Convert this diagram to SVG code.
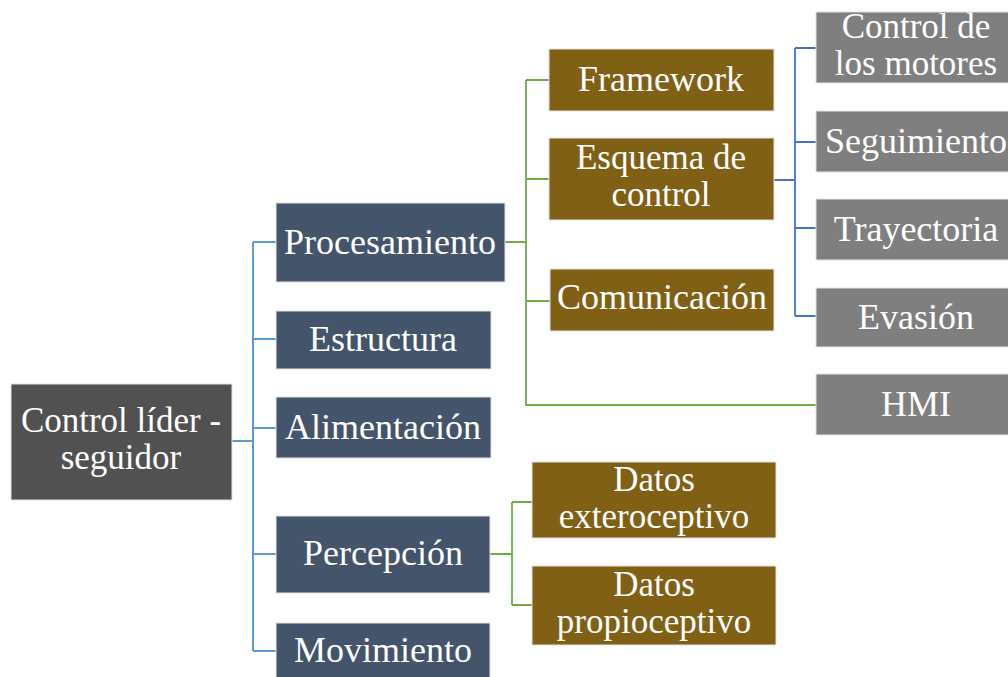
<svg xmlns="http://www.w3.org/2000/svg" width="1008" height="677" viewBox="0 0 1008 677">
<style>
.box{stroke:#e4e4e4;stroke-width:1}
.root{fill:#515151}
.blue{fill:#44546A}
.brown{fill:#7F6014}
.gray{fill:#7F7F7F}
text{font-family:"Liberation Serif","Times New Roman",serif;font-size:36px;fill:#ffffff;text-anchor:middle}
text.t2{font-size:35px}
.c1{fill:none;stroke:#5B9BD5;stroke-width:2}
.c2{fill:none;stroke:#70AD47;stroke-width:1.8}
.c3{fill:none;stroke:#4472C4;stroke-width:1.8}
</style>
<rect width="1008" height="677" fill="#ffffff"/>
<g id="connectors">
<path class="c1" d="M232 441H253M253 242V651M253 242H276M253 339H276M253 428H276M253 554H276M253 651H276"/>
<path class="c2" d="M505 242H526M526 80V405H816M526 80H549M526 179H549M526 301H550"/>
<path class="c3" d="M774 180H795M795 48V316M795 48H816M795 142H816M795 228H816M795 316H816"/>
<path class="c2" d="M490 554H512M512 502V605M512 502H532M512 605H532"/>
</g>
<g id="root"><rect class="box root" x="11" y="384" width="221" height="116"/><text class="t2" x="121" y="432">Control líder -</text><text class="t2" x="121" y="469">seguidor</text></g>
<g id="procesamiento"><rect class="box blue" x="276" y="203" width="229" height="79"/><text x="390" y="254">Procesamiento</text></g>
<g id="estructura"><rect class="box blue" x="276" y="311" width="215" height="58"/><text x="383" y="351">Estructura</text></g>
<g id="alimentacion"><rect class="box blue" x="276" y="397" width="215" height="61"/><text x="383" y="439">Alimentación</text></g>
<g id="percepcion"><rect class="box blue" x="276" y="516" width="214" height="77"/><text x="383" y="565">Percepción</text></g>
<g id="movimiento"><rect class="box blue" x="276" y="623" width="214" height="60"/><text x="383" y="662">Movimiento</text></g>
<g id="framework"><rect class="box brown" x="549" y="49" width="225" height="62"/><text x="661" y="91">Framework</text></g>
<g id="esquema"><rect class="box brown" x="549" y="138" width="225" height="82"/><text class="t2" x="661" y="169">Esquema de</text><text class="t2" x="661" y="206">control</text></g>
<g id="comunicacion"><rect class="box brown" x="550" y="269" width="224" height="62"/><text x="662" y="309">Comunicación</text></g>
<g id="datos-ext"><rect class="box brown" x="532" y="462" width="244" height="76"/><text class="t2" x="654" y="491">Datos</text><text class="t2" x="654" y="528">exteroceptivo</text></g>
<g id="datos-prop"><rect class="box brown" x="532" y="566" width="244" height="79"/><text class="t2" x="654" y="596">Datos</text><text class="t2" x="654" y="633">propioceptivo</text></g>
<g id="motores"><rect class="box gray" x="816" y="12" width="200" height="71"/><text class="t2" x="916" y="38">Control de</text><text class="t2" x="916" y="75">los motores</text></g>
<g id="seguimiento"><rect class="box gray" x="816" y="111" width="200" height="61"/><text x="916" y="153">Seguimiento</text></g>
<g id="trayectoria"><rect class="box gray" x="816" y="199" width="200" height="61"/><text x="916" y="241">Trayectoria</text></g>
<g id="evasion"><rect class="box gray" x="816" y="288" width="200" height="59"/><text x="916" y="329">Evasión</text></g>
<g id="hmi"><rect class="box gray" x="816" y="374" width="200" height="61"/><text x="916" y="416">HMI</text></g>
</svg>
